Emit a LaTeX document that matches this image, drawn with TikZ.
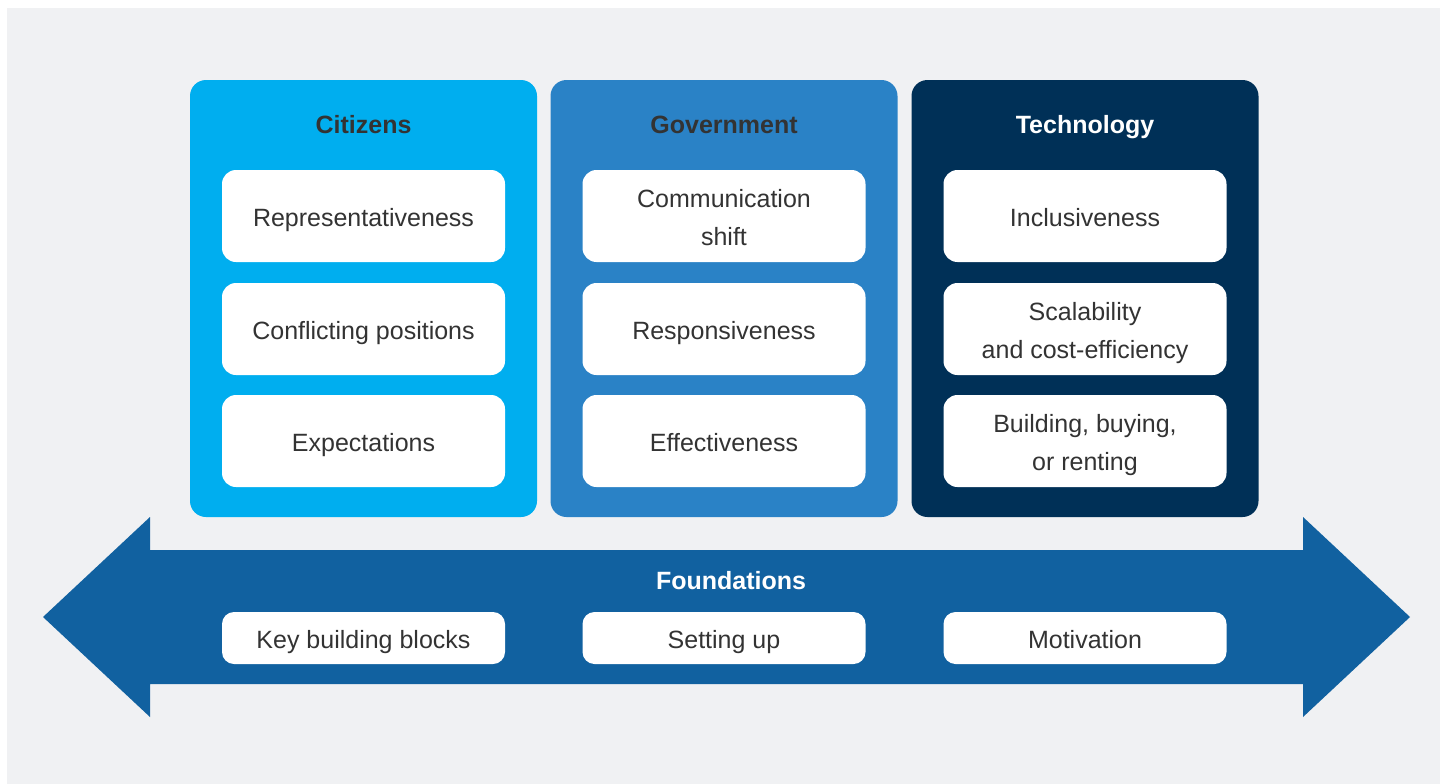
\documentclass[tikz,border=0pt]{standalone}
\usepackage{fontspec}
\setmainfont{Liberation Sans}
\definecolor{bggrey}{HTML}{F0F1F3}
\definecolor{citblue}{HTML}{00AEEF}
\definecolor{govblue}{HTML}{2A82C6}
\definecolor{technavy}{HTML}{003057}
\definecolor{arrowblue}{HTML}{1161A0}
\definecolor{textgrey}{HTML}{333333}

\begin{document}
\begin{tikzpicture}[x=1pt, y=-1pt,
  panel/.style={rounded corners=16pt, minimum width=347pt, minimum height=437pt, inner sep=0pt},
  title/.style={anchor=base, font=\fontsize{25}{30}\selectfont\bfseries, text=textgrey},
  item/.style={fill=white, rounded corners=14pt, minimum width=283pt, minimum height=92pt, inner sep=0pt,
    align=center, text=textgrey, font=\fontsize{25}{38}\selectfont, text height=21pt, text depth=0pt},
  twoline/.style={text height=59pt, text depth=0pt},
  base/.style={item, minimum height=52pt, rounded corners=12pt}]
\useasboundingbox (0,0) rectangle (1440,784);
\fill [bggrey] (7,8) rectangle (1440,784);

% three pillars
\node [panel, fill=citblue] (cit) at (363.5,298.5) {};
\node [panel, fill=govblue] (gov) at (724,298.5) {};
\node [panel, fill=technavy] (tech) at (1085,298.5) {};
\node [title] (citT) at (363.5,133.5) {Citizens};
\node [title] (govT) at (724,133.5) {Government};
\node [title, text=white] (techT) at (1085,133.5) {Technology};

\node [item] (rep) at (363.5,216) {Representativeness};
\node [item] (conf) at (363.5,329) {Conflicting positions};
\node [item] (exp) at (363.5,441) {Expectations};
\node [item, twoline] (comm) at (724,216) {Communication\\shift};
\node [item] (resp) at (724,329) {Responsiveness};
\node [item] (eff) at (724,441) {Effectiveness};
\node [item] (incl) at (1085,216) {Inclusiveness};
\node [item, twoline] (scal) at (1085,329) {Scalability\\and cost-efficiency};
\node [item, twoline] (build) at (1085,441) {Building, buying,\\or renting};

% foundations arrow
\fill [arrowblue] (43,617) -- (150,517) -- (150,550) -- (1303,550) -- (1303,517) -- (1410,617)
  -- (1303,717) -- (1303,684) -- (150,684) -- (150,717) -- cycle;
\node [title, text=white] (found) at (731,589.3) {Foundations};
\node [base] (key) at (363.5,638) {Key building blocks};
\node [base] (set) at (724,638) {Setting up};
\node [base] (mot) at (1085,638) {Motivation};
\end{tikzpicture}
\end{document}
